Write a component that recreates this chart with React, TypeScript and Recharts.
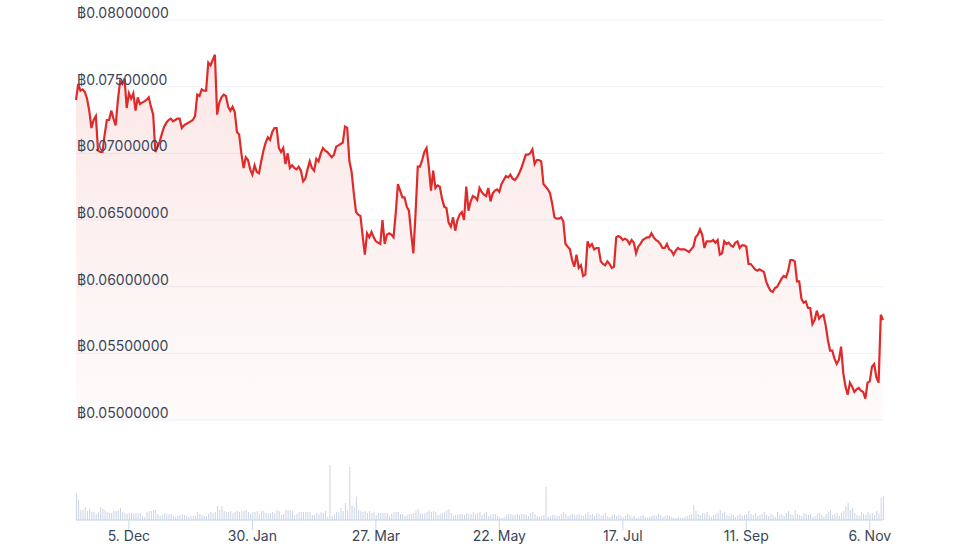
import { Area, Bar, CartesianGrid, ComposedChart, XAxis, YAxis } from 'recharts';

// ETH/BTC daily, 11 Nov 2022 -> 12 Nov 2023
const startDate = '2022-11-11';

const priceBtc = [
  0.0740, 0.0752, 0.0747, 0.0748, 0.0746, 0.0741, 0.0732, 0.0719, 0.0725, 0.0728,
  0.0702, 0.0701, 0.0701, 0.0714, 0.0725, 0.0725, 0.0732, 0.0726, 0.0721, 0.0740,
  0.0754, 0.0752, 0.0756, 0.0734, 0.0745, 0.0741, 0.0745, 0.0732, 0.0742, 0.0737,
  0.0738, 0.0739, 0.0740, 0.0742, 0.0735, 0.0729, 0.0701, 0.0705, 0.0709, 0.0715,
  0.0720, 0.0723, 0.0725, 0.0726, 0.0724, 0.0725, 0.0726, 0.0726, 0.0719, 0.0721,
  0.0722, 0.0723, 0.0724, 0.0725, 0.0728, 0.0744, 0.0743, 0.0748, 0.0747, 0.0747,
  0.0768, 0.0766, 0.0770, 0.0774, 0.0729, 0.0738, 0.0742, 0.0744, 0.0743, 0.0735,
  0.0732, 0.0735, 0.0731, 0.0716, 0.0714, 0.0700, 0.0689, 0.0697, 0.0695, 0.0688,
  0.0684, 0.0691, 0.0686, 0.0685, 0.0694, 0.0702, 0.0708, 0.0712, 0.0710, 0.0716,
  0.0719, 0.0719, 0.0704, 0.0701, 0.0704, 0.0692, 0.0700, 0.0689, 0.0691, 0.0689,
  0.0688, 0.0690, 0.0687, 0.0679, 0.0681, 0.0688, 0.0694, 0.0689, 0.0687, 0.0696,
  0.0694, 0.0700, 0.0704, 0.0702, 0.0701, 0.0699, 0.0697, 0.0699, 0.0705, 0.0706,
  0.0707, 0.0708, 0.0720, 0.0719, 0.0694, 0.0686, 0.0670, 0.0656, 0.0654, 0.0653,
  0.0638, 0.0624, 0.0640, 0.0637, 0.0641, 0.0637, 0.0634, 0.0633, 0.0632, 0.0650,
  0.0632, 0.0639, 0.0640, 0.0639, 0.0637, 0.0655, 0.0677, 0.0672, 0.0667, 0.0667,
  0.0660, 0.0657, 0.0640, 0.0625, 0.0655, 0.0690, 0.0690, 0.0695, 0.0701, 0.0704,
  0.0690, 0.0672, 0.0687, 0.0674, 0.0676, 0.0675, 0.0666, 0.0660, 0.0659, 0.0648,
  0.0645, 0.0652, 0.0642, 0.0650, 0.0654, 0.0656, 0.0650, 0.0675, 0.0657, 0.0664,
  0.0668, 0.0667, 0.0665, 0.0674, 0.0671, 0.0669, 0.0668, 0.0674, 0.0664,
  0.0670, 0.0672, 0.0673, 0.0671, 0.0677, 0.0680, 0.0683, 0.0682, 0.0684, 0.0681,
  0.0680, 0.0682, 0.0685, 0.0689, 0.0694, 0.0699, 0.0699, 0.0700, 0.0703, 0.0692,
  0.0695, 0.0695, 0.0694, 0.0677, 0.0675, 0.0673, 0.0670, 0.0662, 0.0652, 0.0651,
  0.0651, 0.0652, 0.0649, 0.0632, 0.0630, 0.0628, 0.0620, 0.0615, 0.0624, 0.0614,
  0.0616, 0.0608, 0.0609, 0.0634, 0.0630, 0.0632, 0.0628, 0.0629, 0.0629, 0.0619,
  0.0617, 0.0616, 0.0619, 0.0617, 0.0614, 0.0615, 0.0637, 0.0638, 0.0637, 0.0635,
  0.0636, 0.0635, 0.0632, 0.0635, 0.0633, 0.0625, 0.0630, 0.0632, 0.0635, 0.0636,
  0.0637, 0.0637, 0.0640, 0.0637, 0.0635, 0.0634, 0.0632, 0.0629, 0.0629, 0.0632,
  0.0628, 0.0627, 0.0624, 0.0627, 0.0629, 0.0628, 0.0628, 0.0628, 0.0627, 0.0626,
  0.0628, 0.0630, 0.0637, 0.0639, 0.0643, 0.0639, 0.0629, 0.0634, 0.0634, 0.0634,
  0.0635, 0.0633, 0.0635, 0.0624, 0.0625, 0.0634, 0.0632, 0.0633, 0.0631, 0.0630,
  0.0633, 0.0634, 0.0629, 0.0631, 0.0631, 0.0630, 0.0617, 0.0617, 0.0615, 0.0613,
  0.0612, 0.0613, 0.0612, 0.0611, 0.0604, 0.0600, 0.0597, 0.0596, 0.0599, 0.0600,
  0.0603, 0.0606, 0.0608, 0.0607, 0.0612, 0.0620, 0.0620, 0.0619, 0.0604, 0.0604,
  0.0591, 0.0588, 0.0589, 0.0584, 0.0584, 0.0572, 0.0575, 0.0582, 0.0576, 0.0578,
  0.0579, 0.0571, 0.0560, 0.0552, 0.0552, 0.0546, 0.0542, 0.0545, 0.0555, 0.0535,
  0.0525, 0.0519, 0.0528, 0.0525, 0.0521, 0.0523, 0.0524, 0.0522, 0.0521, 0.0516,
  0.0528, 0.0529, 0.0540, 0.0542, 0.0532, 0.0528, 0.0579, 0.0575,
];

// volume, arbitrary units
const volume = [
  27, 20, 10, 10, 13, 9, 11, 8, 8, 6, 8, 13, 11, 10, 8, 7, 7, 9, 9, 10,
  12, 8, 7, 6, 7, 7, 6, 7, 7, 7, 4, 3, 8, 9, 9, 10, 10, 6, 4, 5,
  7, 6, 6, 6, 4, 3, 4, 5, 6, 5, 4, 3, 4, 4, 4, 8, 6, 5, 4, 4,
  6, 8, 7, 8, 14, 10, 14, 9, 8, 8, 9, 7, 8, 9, 8, 9, 9, 10, 8, 6,
  8, 8, 9, 6, 9, 9, 7, 7, 7, 8, 7, 10, 9, 5, 6, 10, 10, 10, 9, 5,
  6, 8, 8, 8, 8, 8, 8, 5, 5, 7, 6, 8, 7, 9, 3, 55, 4, 6, 8, 8,
  12, 9, 17, 10, 53, 15, 13, 23, 10, 9, 8, 9, 7, 9, 7, 8, 5, 7, 7, 7,
  7, 7, 4, 6, 8, 8, 8, 6, 6, 4, 5, 6, 6, 7, 9, 11, 7, 6, 7, 8,
  10, 8, 9, 8, 5, 6, 7, 8, 10, 11, 7, 4, 5, 5, 6, 6, 5, 7, 6, 6,
  8, 6, 7, 8,
  5, 7, 8, 4, 5, 6, 6, 4, 3, 2, 3, 5, 6, 6, 5, 5, 6, 5, 6, 6,
  5, 4, 7, 8, 6, 4, 3, 4, 5, 33,
  3, 4, 5, 5, 4, 4, 6, 8, 6, 4, 5, 6, 5, 5, 6, 5, 4, 6, 8, 5,
  6, 4, 7, 6, 4, 6, 7, 4, 3, 5, 6, 4, 5, 4, 3, 4, 6, 5, 3, 4,
  2, 3, 4, 5, 3, 2, 3, 4, 5, 4, 6, 5, 3, 4, 5, 4, 3, 2, 2, 3,
  2, 2, 3, 4, 5, 6, 15,
  9, 6, 5, 7, 6, 8, 5, 3, 5, 6, 7, 10,
  7, 8, 5, 4, 6, 5, 3, 5, 6, 4, 5, 6, 9,
  6, 5, 7, 4, 5, 6, 8, 5, 4, 6, 5, 3, 8, 5, 6, 4, 7, 9,
  6, 5, 10,
  6, 5, 4, 7, 6, 5, 6, 3, 4, 6, 7, 5, 3, 6, 8, 10,
  5, 6, 7, 4, 7, 9, 14, 17, 10, 12,
  7, 5, 4, 8, 6, 5, 8, 6, 7, 5, 9, 6, 22, 24,
];

const tickDates = ['2022-12-05', '2023-01-30', '2023-03-27', '2023-05-22', '2023-07-17', '2023-09-11', '2023-11-06'];
const priceTicks = [0.05, 0.055, 0.06, 0.065, 0.07, 0.075, 0.08];
const monthNames = ['Jan', 'Feb', 'Mar', 'Apr', 'May', 'Jun', 'Jul', 'Aug', 'Sep', 'Oct', 'Nov', 'Dec'];

const DAY = 86400000;
const t0 = Date.parse(startDate + 'T00:00:00Z');

const data = priceBtc.map((p, i) => ({
  t: t0 + i * DAY,
  price: p,
  volume: volume[i] ?? 0,
}));

function formatDate(ts: number): string {
  const d = new Date(ts);
  return `${d.getUTCDate()}. ${monthNames[d.getUTCMonth()]}`;
}

const RED = '#df2a2a';
const AXIS = '#ccd6eb';
const LABEL = '#3a4558';
const FONT = 'Inter, "Noto Sans", sans-serif';

function PriceTick(props: any) {
  const { x, y, payload } = props;
  return (
    <text x={x} y={y - 2} fill={LABEL} fontSize={14} fontFamily={FONT} textAnchor="start">
      {`฿${Number(payload.value).toFixed(8)}`}
    </text>
  );
}

export default function App() {
  return (
    <div style={{ width: 960, height: 550, background: '#fff' }}>
      <style>{'body{margin:0}'}</style>
      <ComposedChart
        width={960}
        height={550}
        data={data}
        margin={{ top: 20, right: 77, left: 76, bottom: 0 }}
      >
        <defs>
          <linearGradient id="priceFill" x1="0" y1="0" x2="0" y2="1">
            <stop offset="0%" stopColor={RED} stopOpacity={0.19} />
            <stop offset="100%" stopColor={RED} stopOpacity={0.03} />
          </linearGradient>
        </defs>
        <CartesianGrid yAxisId="price" vertical={false} stroke="#eef1f6" />
        <XAxis
          dataKey="t"
          type="number"
          scale="time"
          domain={['dataMin', 'dataMax']}
          ticks={tickDates.map((d) => Date.parse(d + 'T00:00:00Z'))}
          tickFormatter={(v) => formatDate(Number(v))}
          height={30}
          stroke={AXIS}
          tickSize={10}
          tickMargin={1}
          tick={{ fill: LABEL, fontSize: 14, fontFamily: FONT }}
        />
        <YAxis yAxisId="vol" hide domain={[0, 500]} />
        <Bar yAxisId="vol" dataKey="volume" fill="#c9d3e6" barSize={1} isAnimationActive={false} />
        <Area
          yAxisId="price"
          type="linear"
          dataKey="price"
          baseValue={0.05}
          stroke={RED}
          strokeWidth={2.2}
          fill="url(#priceFill)"
          dot={false}
          activeDot={false}
          isAnimationActive={false}
        />
        <YAxis
          yAxisId="price"
          orientation="left"
          mirror
          width={1}
          domain={[0.0425, 0.08]}
          ticks={priceTicks}
          axisLine={false}
          tickLine={false}
          tickSize={0}
          tickMargin={1}
          interval={0}
          tick={<PriceTick />}
        />
      </ComposedChart>
    </div>
  );
}
